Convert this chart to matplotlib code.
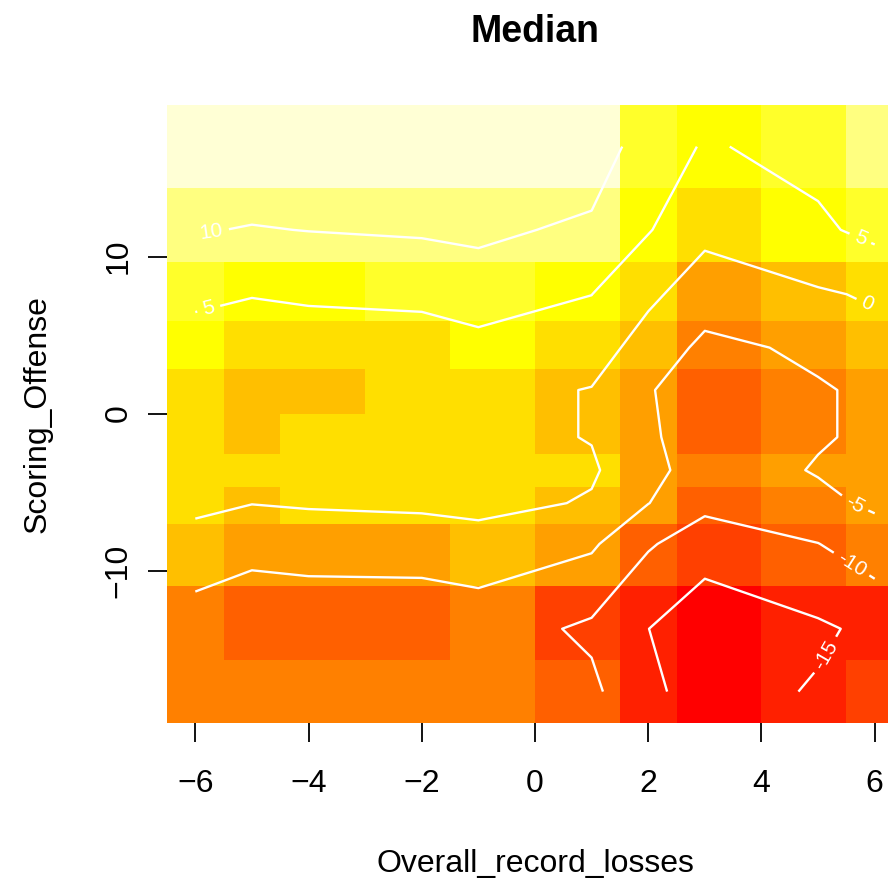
import numpy as np
import matplotlib
matplotlib.use("Agg")
import matplotlib.pyplot as plt
from matplotlib.colors import ListedColormap, BoundaryNorm

plt.rcParams["font.family"] = ["Liberation Sans", "DejaVu Sans"]
plt.rcParams["contour.negative_linestyle"] = "solid"

# grid centres
losses = np.array([-6, -5, -4, -2, -1, 1, 2, 3, 5, 6])
offense = np.array([17, 11.7, 7.6, 4.2, 1.5, -1.5, -3.6, -5.7, -8.3, -13.7, -17.7])

# median surface, one row per offense value (top to bottom), one column per losses value
median = np.array([
    [13.0, 13.9, 13.5, 13.0, 12.8, 12.5, 7.87, 4.53, 6.67, 9.5],
    [10.3, 9.74, 10.1, 10.52, 10.8, 9.25, 5.3, 1.28, 4.12, 6.32],
    [5.9, 5.2, 5.7, 6.5, 7.98, 5.05, 1.04, -2.67, -0.51, 0.5],
    [3.2, 2.3, 2.5, 1.95, 3.15, 2.36, -2.2, -6.07, -4.2, -1.5],
    [2.0, 0.3, 0.3, 1.5, 1.5, -0.2, -4.52, -8.5, -5.36, -4.3],
    [2.2, 0.3, 1.0, 1.5, 1.5, -0.2, -3.95, -8.5, -5.36, -4.3],
    [2.0, 1.5, 1.5, 1.5, 1.8, 0.6, -3.4, -7.5, -4.68, -3.5],
    [1.1, 0.1, 0.51, 1.0, 1.6, -0.45, -4.9, -8.79, -6.13, -4.25],
    [-1.8, -3.2, -3.0, -3.0, -2.2, -4.28, -9.5, -12.57, -10.1, -7.25],
    [-7.5, -9.0, -8.26, -8.0, -7.58, -10.85, -14.95, -18.5, -15.7, -13.95],
    [-6.5, -7.0, -7.0, -7.0, -6.5, -9.0, -14.0, -17.0, -14.58, -12.5],
])

contour_levels = [-15, -10, -5, 0, 5, 10]
x_ticks = [-6, -4, -2, 0, 2, 4, 6]
y_ticks = [-10, 0, 10]

# R heat.colors(12)
heat12 = ["#FF0000", "#FF2000", "#FF4000", "#FF6000", "#FF8000", "#FF9F00",
          "#FFBF00", "#FFDF00", "#FFFF00", "#FFFF2A", "#FFFF80", "#FFFFD5"]


def cell_edges(c):
    c = np.asarray(c, dtype=float)
    mid = (c[:-1] + c[1:]) / 2
    return np.concatenate([[c[0] - (c[1] - c[0]) / 2], mid,
                           [c[-1] + (c[-1] - c[-2]) / 2]])


y = offense[::-1]
z = median[::-1]
xe = cell_edges(losses)
ye = cell_edges(y)

breaks = np.linspace(z.min(), z.max(), len(heat12) + 1)
cmap = ListedColormap(heat12)
norm = BoundaryNorm(breaks, cmap.N)

fig = plt.figure(figsize=(8.88, 8.82), dpi=100)
ax = fig.add_axes([167 / 888, 1 - 723 / 882, 736 / 888, 618 / 882])

ax.pcolormesh(xe, ye, z, cmap=cmap, norm=norm, shading="flat")
cs = ax.contour(losses, y, z, levels=contour_levels, colors="white",
                linewidths=1.7)
label_spots = [(-5.7, 11.2), (-5.74, 6.35), (5.74, 11.1), (5.74, 6.0),
               (5.65, -5.7), (5.57, -9.7), (5.1, -15.3)]
ax.clabel(cs, fmt="%d", fontsize=15, inline=True, inline_spacing=6,
          manual=label_spots)

ax.set_xlim(xe[0], xe[-1])
ax.set_ylim(ye[0], ye[-1])
for s in ax.spines.values():
    s.set_visible(False)

ax.set_xticks(x_ticks)
ax.set_yticks(y_ticks)
ax.tick_params(axis="both", direction="out", length=14, width=1.3,
               labelsize=23)
ax.tick_params(axis="x", pad=19)
ax.tick_params(axis="y", pad=10)
for t in ax.get_yticklabels():
    t.set_rotation(90)
    t.set_va("center")

ax.set_title("Median", fontsize=27, fontweight="bold", pad=45)
ax.set_xlabel("Overall_record_losses", fontsize=23, labelpad=36)
ax.set_ylabel("Scoring_Offense", fontsize=23, labelpad=37)

fig.savefig("out.png", dpi=100)
